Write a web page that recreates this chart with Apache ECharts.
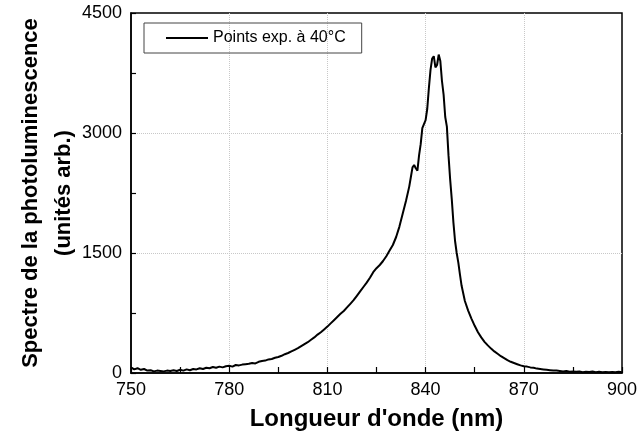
<!DOCTYPE html>
<html>
<head>
<meta charset="utf-8">
<script src="https://cdn.jsdelivr.net/npm/echarts@6/dist/echarts.min.js"></script>
<style>html,body{margin:0;padding:0;background:#fff}#c{width:638px;height:439px}</style>
</head>
<body>
<div id="c"></div>
<script>
const wavelengths = [
750,751,752,753,754,755,756,757,758,759,760,761,762,763,764,765,766,767,768,769,
770,771,772,773,774,775,776,777,778,779,780,781,782,783,784,785,786,787,788,789,
790,791,792,793,794,795,796,797,798,799,800,801,802,803,804,805,806,807,808,809,
810,811,812,813,814,815,816,817,818,819,820,821,822,823,824,825,826,827,828,829,
830,831,832,833,834,835,835.5,836,836.5,837,837.5,838,838.5,839,839.5,840,840.5,841,841.5,842,
842.5,843,843.5,844,844.5,845,845.5,846,846.5,847,847.5,848,848.5,849,849.5,850,850.5,851,852,853,
854,855,856,857,858,859,860,861,862,863,864,865,866,867,868,869,870,871,872,873,
874,875,876,877,878,879,880,881,882,883,884,885,886,887,888,889,890,891,892,893,
894,895,896,897,898,899,900
];
const intensity = [
70,45,60,40,50,30,35,20,30,25,20,30,25,35,25,40,30,45,35,50,
45,60,50,65,60,75,65,80,70,85,90,80,100,95,105,110,115,125,120,140,
150,155,170,175,190,200,215,235,250,270,290,310,335,360,385,415,445,480,510,545,
580,620,660,700,740,775,820,865,910,965,1020,1075,1130,1190,1260,1310,1350,1400,1460,1530,
1600,1700,1830,1990,2150,2330,2450,2570,2600,2560,2530,2720,2860,3060,3080,3160,3300,3560,3790,3930,
3960,3820,3850,3980,3900,3650,3480,3200,3080,2720,2420,2170,1880,1650,1500,1380,1230,1090,900,780,
680,590,510,445,390,345,305,270,240,210,185,160,140,125,110,95,85,80,70,65,
55,50,45,40,35,30,30,25,20,25,15,20,15,20,10,15,12,18,10,15,
10,14,8,12,10,15,10
];
const xTicks = {min: 750, max: 900, interval: 30};
const yTicks = {min: 0, max: 4500, interval: 1500};
const seriesName = 'Points exp. à 40°C';

const data = wavelengths.map((w, i) => [w, intensity[i]]);
const chart = echarts.init(document.getElementById('c'), null, {renderer: 'canvas'});
const font = 'Liberation Sans, Arial, sans-serif';
const split = {show: true, showMinLine: false, showMaxLine: false, lineStyle: {color: '#c8c8c8', type: 'dotted', width: 1}};
chart.setOption({
  animation: false,
  textStyle: {fontFamily: font},
  grid: {left: 131, right: 16, top: 13, bottom: 66, show: true, borderColor: '#000', borderWidth: 1.5,
         containLabel: false, outerBoundsMode: 'none'},
  legend: {
    left: 144, top: 23,
    data: [{name: seriesName, icon: 'rect'}],
    itemWidth: 42, itemHeight: 2, itemGap: 7,
    padding: [7, 16, 7, 22],
    borderColor: '#444', borderWidth: 1,
    textStyle: {fontFamily: font, fontSize: 16, color: '#000', lineHeight: 16}
  },
  xAxis: {
    type: 'value', min: xTicks.min, max: xTicks.max, interval: xTicks.interval,
    name: "Longueur d'onde (nm)", nameLocation: 'middle', nameGap: 34, nameMoveOverlap: false,
    nameTextStyle: {fontFamily: font, fontSize: 24, fontWeight: 'bold', color: '#000'},
    axisLine: {lineStyle: {color: '#000', width: 1.5}},
    axisTick: {inside: true, length: 6, lineStyle: {color: '#000', width: 1.2}},
    minorTick: {show: true, splitNumber: 2, length: 6, lineStyle: {color: '#000', width: 1.2}},
    axisLabel: {fontFamily: font, fontSize: 18, color: '#000', margin: 8, formatter: v => String(v)},
    splitLine: split
  },
  yAxis: {
    type: 'value', min: yTicks.min, max: yTicks.max, interval: yTicks.interval,
    name: 'Spectre de la photoluminescence\n(unités arb.)', nameLocation: 'middle', nameGap: 51, nameMoveOverlap: false,
    nameTextStyle: {fontFamily: font, fontSize: 22, fontWeight: 'bold', color: '#000', lineHeight: 33},
    axisLine: {lineStyle: {color: '#000', width: 1.5}},
    axisTick: {inside: true, length: 5, lineStyle: {color: '#000', width: 1.2}},
    minorTick: {show: true, splitNumber: 2, length: 5, lineStyle: {color: '#000', width: 1.2}},
    axisLabel: {fontFamily: font, fontSize: 18, color: '#000', margin: 9, formatter: v => String(v)},
    splitLine: split
  },
  series: [{
    name: seriesName, type: 'line', data: data, symbol: 'none',
    lineStyle: {color: '#000', width: 2}, itemStyle: {color: '#000'}
  }]
});
</script>
</body>
</html>
